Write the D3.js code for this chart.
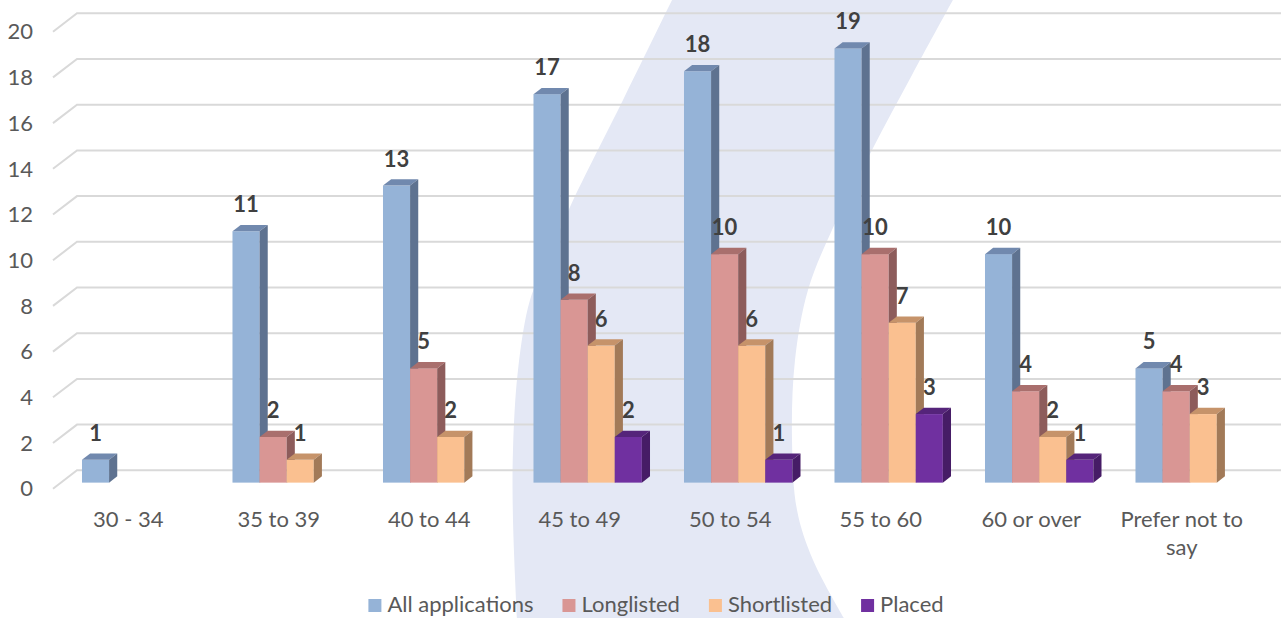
<!DOCTYPE html>
<html>
<head>
<meta charset="utf-8">
<script src="https://cdn.jsdelivr.net/npm/d3@7"></script>
<style>
  html, body { margin: 0; padding: 0; background: #fff; }
  svg { display: block; font-family: Lato, 'Open Sans', sans-serif; }
</style>
</head>
<body>
<div id="chart"></div>
<script>
// chart data
const categories = ['30 - 34', '35 to 39', '40 to 44', '45 to 49', '50 to 54', '55 to 60', '60 or over', 'Prefer not to say'];
const seriesNames = ['All applications', 'Longlisted', 'Shortlisted', 'Placed'];
const allApplications = [1, 11, 13, 17, 18, 19, 10, 5];
const longlisted = [null, 2, 5, 8, 10, 10, 4, 4];
const shortlisted = [null, 1, 2, 6, 6, 7, 2, 3];
const placed = [null, null, null, 2, 1, 3, 1, null];
const yTicks = [0, 2, 4, 6, 8, 10, 12, 14, 16, 18, 20];

const seriesValues = [allApplications, longlisted, shortlisted, placed];

// face / top / side shades for each series
const colors = {
  'All applications': { face: '#95b3d7', top: '#7189ae', side: '#5e7290' },
  'Longlisted': { face: '#d99694', top: '#a96f6d', side: '#8d5c5b' },
  'Shortlisted': { face: '#fac090', top: '#c6936a', side: '#a27a58' },
  'Placed': { face: '#7030a0', top: '#55247a', side: '#461c66' }
};

const width = 1281;
const height = 618;
const fontSize = '22px';

// 3D floor depth (front edge -> back wall)
const depthX = 24;
const depthY = -18.4;
const barT0 = 0.33; // bar front plane, share of depth
const barT1 = 0.67; // bar back plane

const svg = d3.select('#chart')
  .append('svg')
  .attr('width', width)
  .attr('height', height);

// light background swoosh
const swooshLeft = [[673, -2], [623, 100], [570, 207], [545, 265], [530, 300], [518, 370], [513, 450], [513, 520], [517, 620]];
const swooshRight = [[845, 620], [813, 560], [797, 510], [792, 440], [795, 360], [808, 290], [832, 230], [872, 150], [912, 75], [954, -2]];
const curve = d3.line().curve(d3.curveCatmullRom.alpha(0.5));
svg.append('path')
  .attr('d', curve(swooshLeft) + 'L' + curve(swooshRight).slice(1) + 'Z')
  .attr('fill', '#e4e8f5');

const x0 = d3.scaleBand()
  .domain(categories)
  .range([53, 1257]);

const gap = x0.bandwidth() * 0.14;
const x1 = d3.scaleBand()
  .domain(seriesNames)
  .range([gap, x0.bandwidth() - gap]);

const y = d3.scaleLinear()
  .domain([0, 20])
  .range([488.7, 31.7]);

// gridlines on the back wall with a short floor diagonal
const grid = svg.append('g')
  .attr('fill', 'none')
  .attr('stroke', '#d9d9d9')
  .attr('stroke-width', 2);
grid.selectAll('path')
  .data(yTicks)
  .join('path')
  .attr('d', (d) => `M${x0.range()[0]},${y(d)}L${x0.range()[0] + depthX},${y(d) + depthY}H${width}`);

// y tick labels
svg.append('g')
  .selectAll('text')
  .data(yTicks)
  .join('text')
  .attr('x', 33)
  .attr('y', (d) => y(d))
  .attr('dy', '0.35em')
  .attr('text-anchor', 'end')
  .attr('fill', '#595959')
  .style('font-size', fontSize)
  .text((d) => d);

// bars
const bars = [];
categories.forEach((cat, i) => {
  seriesNames.forEach((s, j) => {
    const v = seriesValues[j][i];
    if (v != null) bars.push({ cat, series: s, value: v });
  });
});

const fx = barT0 * depthX;
const fy = barT0 * depthY;
const bx = (barT1 - barT0) * depthX;
const by = (barT1 - barT0) * depthY;

const barG = svg.append('g')
  .selectAll('g')
  .data(bars)
  .join('g');

barG.each(function (d) {
  const g = d3.select(this);
  const left = x0(d.cat) + x1(d.series) + fx;
  const right = left + x1.bandwidth();
  const top = y(d.value) + fy;
  const bottom = y(0) + fy;
  const c = colors[d.series];

  g.append('rect')
    .attr('x', left)
    .attr('y', top)
    .attr('width', x1.bandwidth())
    .attr('height', bottom - top)
    .attr('fill', c.face);

  g.append('path')
    .attr('d', `M${left},${top}L${right},${top}L${right + bx},${top + by}L${left + bx},${top + by}Z`)
    .attr('fill', c.top);

  g.append('path')
    .attr('d', `M${right},${top}L${right + bx},${top + by}L${right + bx},${bottom + by}L${right},${bottom}Z`)
    .attr('fill', c.side);
});

// value labels
svg.append('g')
  .selectAll('text')
  .data(bars)
  .join('text')
  .attr('x', (d) => x0(d.cat) + x1(d.series) + fx + x1.bandwidth() / 2)
  .attr('y', (d) => y(d.value) + fy - 19)
  .attr('text-anchor', 'middle')
  .attr('fill', '#404040')
  .style('font-size', fontSize)
  .style('font-weight', 'bold')
  .text((d) => d.value);

// category labels, wrapped like the original
const catLabels = svg.append('g')
  .selectAll('text')
  .data(categories)
  .join('text')
  .attr('x', (d) => x0(d) + x0.bandwidth() / 2)
  .attr('y', 527)
  .attr('text-anchor', 'middle')
  .attr('fill', '#595959')
  .style('font-size', fontSize)
  .text((d) => d);

catLabels.each(function (d) {
  const t = d3.select(this);
  const words = d.split(' ');
  const maxW = x0.bandwidth() - 12;
  if (this.getComputedTextLength() <= maxW) return;
  t.text(null);
  let line = [];
  let tspan = t.append('tspan').attr('x', t.attr('x'));
  words.forEach((w) => {
    line.push(w);
    tspan.text(line.join(' '));
    if (tspan.node().getComputedTextLength() > maxW && line.length > 1) {
      line.pop();
      tspan.text(line.join(' '));
      line = [w];
      tspan = t.append('tspan').attr('x', t.attr('x')).attr('dy', 28).text(w);
    }
  });
});

// legend
const legend = svg.append('g');
const items = legend.selectAll('g')
  .data(seriesNames)
  .join('g');

items.append('rect')
  .attr('y', 599)
  .attr('width', 13)
  .attr('height', 13)
  .attr('fill', (d) => colors[d].face);

items.append('text')
  .attr('x', 19)
  .attr('y', 612)
  .attr('fill', '#595959')
  .style('font-size', fontSize)
  .text((d) => d);

let xpos = 0;
items.each(function () {
  const g = d3.select(this);
  g.attr('transform', `translate(${xpos},0)`);
  xpos += 19 + g.select('text').node().getComputedTextLength() + 29;
});
const legendW = xpos - 29;
legend.attr('transform', `translate(${656 - legendW / 2},0)`);
</script>
</body>
</html>
